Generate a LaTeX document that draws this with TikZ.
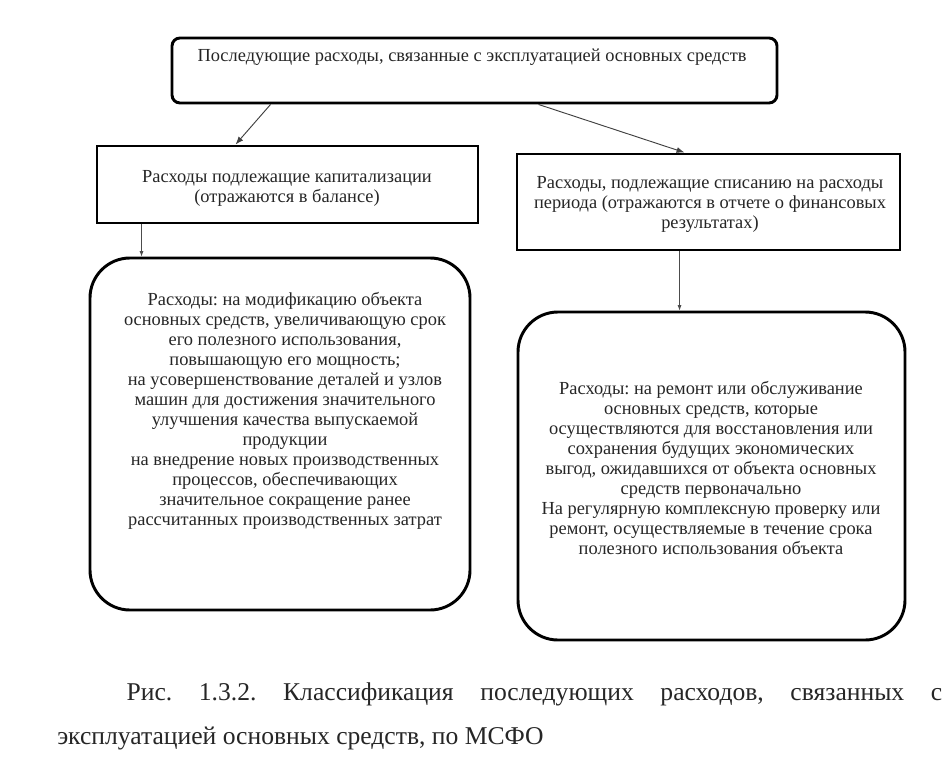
\documentclass[tikz,border=0pt]{standalone}
\usepackage{fontspec}
\setmainfont{Liberation Serif}
\usetikzlibrary{calc,arrows.meta}
\frenchspacing
\begin{document}
\begin{tikzpicture}[x=0.75pt,y=-0.75pt,
  box/.style={draw=black, line width=2.2pt, inner sep=0pt},
  txt/.style={font=\fontsize{13.8}{15}\selectfont, align=center, text=black!85, inner sep=0pt},
  arr/.style={-{Latex[length=6pt,width=4.5pt]}, line width=0.7pt, draw=black!75},
  arrs/.style={-{Latex[length=4pt,width=3pt]}, line width=0.6pt, draw=black!70}]
\useasboundingbox (0,0) rectangle (952,770);
\fill[white] (0,0) rectangle (952,770);
% boxes
\node[box, rounded corners=6pt, minimum width=0.75*605pt, minimum height=0.75*65pt] (top) at (474.5,70.5) {};
\node[box, minimum width=0.75*381pt, minimum height=0.75*77pt] (lrect) at (287.5,184.5) {};
\node[box, minimum width=0.75*383pt, minimum height=0.75*96pt] (rrect) at (708.5,202) {};
\node[box, rounded corners=30pt, minimum width=0.75*380pt, minimum height=0.75*352pt] (lround) at (280,434) {};
\node[box, rounded corners=30pt, minimum width=0.75*387pt, minimum height=0.75*328pt] (rround) at (711.5,476) {};
% texts
\node[txt] (ttop) at (472,57) {Последующие расходы, связанные с эксплуатацией основных средств};
\node[txt] (tl) at (287,188) {Расходы подлежащие капитализации\\(отражаются в балансе)};
\node[txt] (tr) at (710,204) {Расходы, подлежащие списанию на расходы\\периода (отражаются в отчете о финансовых\\результатах)};
\node[txt] (tlr) at (285,411) {Расходы: на модификацию объекта\\основных средств, увеличивающую срок\\его полезного использования,\\повышающую его мощность;\\на усовершенствование деталей и узлов\\машин для достижения значительного\\улучшения качества выпускаемой\\продукции\\на внедрение новых производственных\\процессов, обеспечивающих\\значительное сокращение ранее\\рассчитанных производственных затрат};
\node[txt] (trr) at (711,468) {Расходы: на ремонт или обслуживание\\основных средств, которые\\осуществляются для восстановления или\\сохранения будущих экономических\\выгод, ожидавшихся от объекта основных\\средств первоначально\\На регулярную комплексную проверку или\\ремонт, осуществляемые в течение срока\\полезного использования объекта};
% connectors
\coordinate (la) at ($(lrect.south west)+(46,0)$);
\coordinate (ra) at ($(rrect.south west)+(164,0)$);
\draw[arr] ($(top.south west)+(100,0)$) -- ($(lrect.north west)+(140,0)$);
\draw[arr] ($(top.south west)+(368,0)$) -- ($(rrect.north west)+(169,0)$);
\draw[arrs] (la) -- (la |- lround.north);
\draw[arrs] (ra) -- (ra |- rround.north);
% caption
\node[anchor=north west, inner sep=0pt, text width=0.75*885pt, align=justify,
  font=\fontsize{19.2}{33}\selectfont, text=black!85] (cap) at (57,682)
  {\hyphenpenalty=10000\hspace*{52pt}Рис. 1.3.2. Классификация последующих расходов, связанных с\linebreak эксплуатацией основных средств, по МСФО};
\end{tikzpicture}
\end{document}
